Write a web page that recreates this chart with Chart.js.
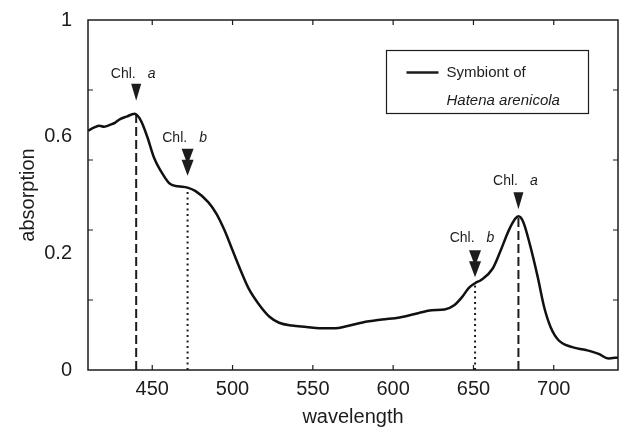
<!DOCTYPE html>
<html lang="en">
<head>
<meta charset="UTF-8">
<title>Absorption spectrum</title>
<script src="https://cdn.jsdelivr.net/npm/chart.js@4"></script>
<style>
  html, body { margin: 0; padding: 0; background: #fff; }
</style>
</head>
<body>
<canvas id="spectrum" width="620" height="427"></canvas>
<script>
// spectrum (absorption as fraction of the axis height)
const wavelength = [410, 414, 417, 420, 424, 427, 430, 434, 439, 443, 447, 451, 457, 461, 466, 472, 477, 485,
  490, 495, 500, 505, 510, 516, 523, 529, 537, 546, 554, 564, 571, 581, 593, 604, 616, 624, 632, 638, 643,
  647, 651, 655, 662, 667, 672, 676, 678, 681, 685, 690, 694, 698, 703, 711, 720, 728, 734, 740];
const absorption = [0.684, 0.693, 0.698, 0.695, 0.701, 0.707, 0.717, 0.724, 0.732, 0.712, 0.665, 0.608, 0.556,
  0.532, 0.525, 0.521, 0.511, 0.479, 0.446, 0.399, 0.342, 0.285, 0.233, 0.190, 0.152, 0.135, 0.127, 0.123,
  0.119, 0.119, 0.125, 0.136, 0.144, 0.150, 0.163, 0.171, 0.173, 0.185, 0.209, 0.234, 0.248, 0.258, 0.290,
  0.342, 0.399, 0.432, 0.439, 0.423, 0.361, 0.266, 0.180, 0.123, 0.085, 0.066, 0.057, 0.046, 0.033, 0.036];

// axis ticks
const xTicks = [450, 500, 550, 600, 650, 700];
const yMarks = [0.2, 0.4, 0.6, 0.8];
const yLabelPos = [0, 1 / 3, 2 / 3, 1];
const yLabels = ['0', '0.2', '0.6', '1'];

// pigment markers
const markWl = [440, 472, 651, 678];
const markTop = [0.732, 0.521, 0.248, 0.439];
const markLetter = ['a', 'b', 'b', 'a'];
const markStyle = ['dash', 'dot', 'dot', 'dash'];

// marker layout (px above the curve)
const arrowGap = [13, 12, 6, 7];
const textGap = [40, 50, 45, 35];

const ink = '#1c1c1c';
const fontFam = '"Liberation Sans", Arial, Helvetica, sans-serif';
Chart.defaults.font.family = fontFam;
Chart.defaults.color = ink;

const refLines = markWl.map((wl, i) => ({
  data: [{x: wl, y: 0}, {x: wl, y: markTop[i]}],
  showLine: true,
  borderColor: ink,
  borderWidth: 2,
  borderDash: markStyle[i] === 'dash' ? [9, 4] : [2, 3.5],
  pointRadius: 0
}));

const decor = {
  id: 'decor',
  afterDatasetsDraw(chart) {
    const {ctx, chartArea: a, scales: {x, y}} = chart;
    ctx.save();
    ctx.strokeStyle = ink;
    ctx.fillStyle = ink;

    // frame + inward ticks on all four sides
    ctx.lineWidth = 1.5;
    ctx.strokeRect(a.left, a.top, a.width, a.height);
    ctx.lineWidth = 1.2;
    ctx.beginPath();
    xTicks.forEach(v => {
      const px = x.getPixelForValue(v);
      ctx.moveTo(px, a.bottom); ctx.lineTo(px, a.bottom - 5);
      ctx.moveTo(px, a.top); ctx.lineTo(px, a.top + 5);
    });
    yMarks.forEach(v => {
      const py = y.getPixelForValue(v);
      ctx.moveTo(a.left, py); ctx.lineTo(a.left + 5, py);
      ctx.moveTo(a.right, py); ctx.lineTo(a.right - 5, py);
    });
    ctx.stroke();

    // arrows and "Chl. a/b" labels
    markWl.forEach((wl, i) => {
      const px = x.getPixelForValue(wl);
      const curveY = y.getPixelForValue(markTop[i]);
      const tip = curveY - arrowGap[i];
      if (markStyle[i] === 'dot') {
        tri(ctx, px, tip - 11, 12, 16);
        tri(ctx, px, tip, 12, 16);
      } else {
        tri(ctx, px, tip, 10, 17);
      }
      const ty = curveY - textGap[i];
      ctx.font = '14px ' + fontFam;
      const w1 = ctx.measureText('Chl.').width;
      ctx.font = 'italic 14px ' + fontFam;
      const w2 = ctx.measureText(markLetter[i]).width;
      const start = px - 3 - (w1 + 12 + w2) / 2;
      ctx.textBaseline = 'middle';
      ctx.textAlign = 'left';
      ctx.font = '14px ' + fontFam;
      ctx.fillText('Chl.', start, ty);
      ctx.font = 'italic 14px ' + fontFam;
      ctx.fillText(markLetter[i], start + w1 + 12, ty);
    });

    // legend box
    const lx = a.left + 298.5, ly = a.top + 30.5;
    ctx.lineWidth = 1.2;
    ctx.strokeRect(lx, ly, 202, 63);
    ctx.lineWidth = 2.5;
    ctx.beginPath();
    ctx.moveTo(lx + 20, ly + 22);
    ctx.lineTo(lx + 52, ly + 22);
    ctx.stroke();
    ctx.textBaseline = 'middle';
    ctx.font = '15px ' + fontFam;
    ctx.fillText('Symbiont of', lx + 60, ly + 22);
    ctx.font = 'italic 15px ' + fontFam;
    ctx.fillText('Hatena arenicola', lx + 60, ly + 50);
    ctx.restore();
  }
};

// downward triangle with its tip at (cx, tipY)
function tri(ctx, cx, tipY, w, h) {
  ctx.beginPath();
  ctx.moveTo(cx - w / 2, tipY - h);
  ctx.lineTo(cx + w / 2, tipY - h);
  ctx.lineTo(cx, tipY);
  ctx.closePath();
  ctx.fill();
}

new Chart(document.getElementById('spectrum'), {
  type: 'scatter',
  data: {
    datasets: [{
      label: 'Symbiont of Hatena arenicola',
      data: wavelength.map((wl, i) => ({x: wl, y: absorption[i]})),
      showLine: true,
      borderColor: '#111',
      borderWidth: 2.5,
      cubicInterpolationMode: 'monotone',
      pointRadius: 0
    }, ...refLines]
  },
  options: {
    responsive: false,
    animation: false,
    layout: {padding: {left: 0, right: 2, top: 19, bottom: 0}},
    plugins: {legend: {display: false}, tooltip: {enabled: false}},
    scales: {
      x: {
        type: 'linear',
        min: 410,
        max: 740,
        grid: {display: false},
        border: {display: false},
        afterBuildTicks: s => { s.ticks = xTicks.map(v => ({value: v})); },
        afterFit: s => { s.height = 57; },
        ticks: {font: {size: 20}, padding: -1, maxRotation: 0},
        title: {display: true, text: 'wavelength', font: {size: 20}, padding: {bottom: -2}}
      },
      y: {
        min: 0,
        max: 1,
        grid: {display: false},
        border: {display: false},
        afterBuildTicks: s => { s.ticks = yLabelPos.map(v => ({value: v})); },
        afterFit: s => { s.width = 88; },
        ticks: {font: {size: 20}, padding: 8, callback: (v, i) => yLabels[i]},
        title: {display: true, text: 'absorption', font: {size: 20}, padding: {top: 16}}
      }
    }
  },
  plugins: [decor]
});
</script>
</body>
</html>
